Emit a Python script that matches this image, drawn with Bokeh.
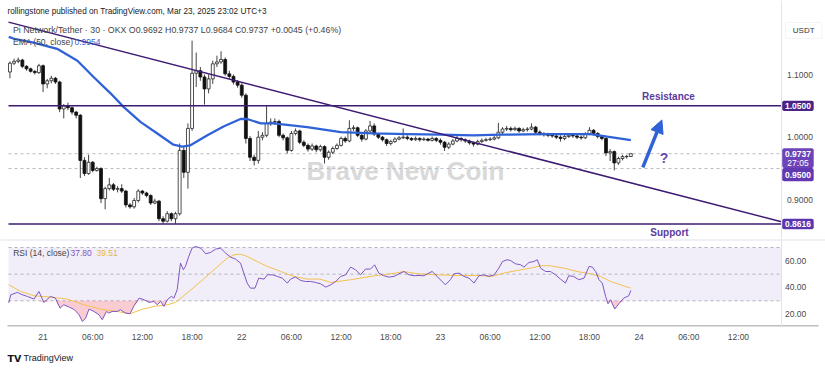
import numpy as np
from bokeh.plotting import figure
from bokeh.layouts import column
from bokeh.models import (Range1d, FixedTicker, Label, Span, Arrow, NormalHead,
                          BoxAnnotation)
from bokeh.embed import file_html
from bokeh.resources import INLINE

# ---------------- data (30-min candles, Mar 20 20:00 -> Mar 23 23:00) ----------------
opens = [1.104, 1.118, 1.121, 1.123, 1.113, 1.109, 1.105, 1.103, 1.114, 1.085,
         1.090, 1.094, 1.088, 1.045, 1.050, 1.047, 1.040, 1.035, 0.963, 0.942,
         0.960, 0.947, 0.950, 0.902, 0.918, 0.924, 0.917, 0.918, 0.914, 0.892,
         0.889, 0.899, 0.914, 0.911, 0.907, 0.895, 0.898, 0.870, 0.866, 0.878,
         0.870, 0.878, 0.979, 0.944, 1.014, 1.102, 1.106, 1.096, 1.077, 1.093,
         1.117, 1.120, 1.124, 1.101, 1.097, 1.088, 1.083, 1.067, 0.998, 0.968,
         0.963, 1.000, 1.003, 1.022, 1.024, 1.025, 1.003, 0.999, 0.979, 1.006,
         1.010, 0.992, 0.987, 0.981, 0.986, 0.980, 0.985, 0.968, 0.976, 0.982,
         0.987, 0.998, 0.994, 1.014, 1.015, 1.003, 0.997, 1.010, 1.018, 1.005,
         1.000, 0.996, 0.990, 0.993, 0.997, 0.999, 1.000, 0.998, 0.996, 0.998,
         0.996, 0.997, 0.995, 0.998, 0.995, 0.992, 0.984, 0.989, 0.994, 0.998,
         0.996, 0.994, 0.991, 0.989, 0.993, 0.995, 0.996, 0.997, 0.999, 1.008,
         1.013, 1.014, 1.012, 1.014, 1.010, 1.012, 1.013, 1.016, 1.008, 1.006,
         1.004, 1.003, 1.002, 1.000, 0.998, 1.001, 1.003, 1.002, 1.000, 0.999,
         1.005, 1.011, 1.006, 1.001, 0.998, 0.975, 0.977, 0.959, 0.966, 0.969,
         0.9692]
highs = [1.121, 1.125, 1.127, 1.125, 1.115, 1.111, 1.107, 1.117, 1.116, 1.093,
         1.098, 1.096, 1.090, 1.053, 1.055, 1.049, 1.042, 1.037, 0.968, 0.972,
         0.962, 0.953, 0.952, 0.921, 0.935, 0.927, 0.922, 0.925, 0.916, 0.895,
         0.903, 0.917, 0.916, 0.913, 0.909, 0.902, 0.900, 0.874, 0.882, 0.880,
         0.881, 0.990, 0.985, 1.022, 1.154, 1.135, 1.112, 1.100, 1.100, 1.122,
         1.130, 1.137, 1.127, 1.106, 1.100, 1.091, 1.086, 1.070, 1.002, 0.972,
         1.010, 1.008, 1.050, 1.030, 1.030, 1.028, 1.006, 1.001, 1.010, 1.014,
         1.012, 0.995, 0.990, 0.990, 0.988, 0.988, 0.987, 0.979, 0.985, 0.990,
         1.001, 1.001, 1.027, 1.019, 1.017, 1.005, 1.013, 1.026, 1.022, 1.007,
         1.002, 0.998, 0.996, 1.000, 1.002, 1.014, 1.003, 1.000, 1.001, 1.000,
         1.000, 0.999, 1.001, 1.000, 0.998, 0.994, 0.992, 0.997, 1.003, 1.000,
         0.998, 0.996, 0.993, 0.996, 0.998, 0.999, 1.000, 1.002, 1.023, 1.016,
         1.018, 1.017, 1.017, 1.016, 1.015, 1.016, 1.022, 1.018, 1.011, 1.008,
         1.007, 1.006, 1.004, 1.003, 1.004, 1.006, 1.006, 1.004, 1.003, 1.008,
         1.016, 1.013, 1.008, 1.003, 1.000, 0.981, 0.979, 0.969, 0.972, 0.972,
         0.9737]
lows = [1.094, 1.115, 1.118, 1.110, 1.106, 1.103, 1.100, 1.101, 1.072, 1.078,
        1.086, 1.085, 1.040, 1.030, 1.043, 1.036, 1.030, 0.935, 0.938, 0.940,
        0.944, 0.945, 0.895, 0.885, 0.915, 0.914, 0.912, 0.911, 0.888, 0.886,
        0.886, 0.896, 0.908, 0.904, 0.892, 0.893, 0.866, 0.862, 0.864, 0.866,
        0.862, 0.875, 0.935, 0.918, 1.010, 1.080, 1.090, 1.052, 1.070, 1.085,
        1.112, 1.117, 1.098, 1.093, 1.084, 1.079, 1.063, 0.990, 0.962, 0.955,
        0.958, 0.995, 1.000, 1.018, 1.020, 1.000, 0.995, 0.974, 0.977, 1.003,
        0.989, 0.984, 0.977, 0.978, 0.976, 0.977, 0.958, 0.964, 0.973, 0.980,
        0.985, 0.991, 0.992, 1.010, 1.000, 0.993, 0.995, 1.008, 1.002, 0.997,
        0.993, 0.986, 0.987, 0.991, 0.995, 0.997, 0.995, 0.994, 0.994, 0.993,
        0.994, 0.993, 0.993, 0.992, 0.988, 0.978, 0.981, 0.987, 0.992, 0.993,
        0.991, 0.988, 0.985, 0.987, 0.991, 0.993, 0.994, 0.995, 0.997, 1.005,
        1.010, 1.009, 1.010, 1.007, 1.008, 1.009, 1.011, 1.005, 1.003, 1.001,
        1.000, 0.999, 0.997, 0.993, 0.995, 0.999, 0.999, 0.997, 0.996, 0.997,
        1.003, 1.003, 0.998, 0.995, 0.970, 0.962, 0.947, 0.956, 0.963, 0.966,
        0.9684]
closes = [1.118, 1.121, 1.123, 1.113, 1.109, 1.105, 1.103, 1.114, 1.085, 1.090,
          1.094, 1.088, 1.045, 1.050, 1.047, 1.040, 1.035, 0.963, 0.942, 0.960,
          0.947, 0.950, 0.902, 0.918, 0.924, 0.917, 0.918, 0.914, 0.892, 0.889,
          0.899, 0.914, 0.911, 0.907, 0.895, 0.898, 0.870, 0.866, 0.878, 0.870,
          0.878, 0.979, 0.944, 1.014, 1.102, 1.106, 1.096, 1.077, 1.093, 1.117,
          1.120, 1.124, 1.101, 1.097, 1.088, 1.083, 1.067, 0.998, 0.968, 0.963,
          1.000, 1.003, 1.022, 1.024, 1.025, 1.003, 0.999, 0.979, 1.006, 1.010,
          0.992, 0.987, 0.981, 0.986, 0.980, 0.985, 0.968, 0.976, 0.982, 0.987,
          0.998, 0.994, 1.014, 1.015, 1.003, 0.997, 1.010, 1.018, 1.005, 1.000,
          0.996, 0.990, 0.993, 0.997, 0.999, 1.000, 0.998, 0.996, 0.998, 0.996,
          0.997, 0.995, 0.998, 0.995, 0.992, 0.984, 0.989, 0.994, 0.998, 0.996,
          0.994, 0.991, 0.989, 0.993, 0.995, 0.996, 0.997, 0.999, 1.008, 1.013,
          1.014, 1.012, 1.014, 1.010, 1.012, 1.013, 1.016, 1.008, 1.006, 1.004,
          1.003, 1.002, 1.000, 0.998, 1.001, 1.003, 1.002, 1.000, 0.999, 1.005,
          1.011, 1.006, 1.001, 0.998, 0.975, 0.977, 0.959, 0.966, 0.969, 0.9692,
          0.9737]

# EMA(50) (candle index, value)
ema_idx = [-0.3, 1.0, 5.7, 11.4, 16.3, 20.2, 24.3, 27.5, 31.6, 35.6, 39.5, 41.6, 43.6, 47.7, 51.6,
           55.7, 57.3, 60.6, 63.7, 71.8, 79.9, 87.9, 96.0, 104.0, 112.0, 118.5, 129.8, 140.3, 144.3, 150.0]
ema_val = [1.160, 1.157, 1.151, 1.141, 1.122, 1.096, 1.070, 1.048, 1.024, 1.006, 0.988, 0.985, 0.987, 1.003, 1.017,
           1.029, 1.029, 1.022, 1.022, 1.016, 1.008, 1.006, 1.005, 1.004, 1.003, 1.004, 1.005, 1.005, 1.001, 0.9954]

# RSI(14)
rsi_idx = [-0.3, 0.2, 1.8, 3.0, 4.2, 5.8, 7.0, 8.2, 9.8, 11.0, 12.1, 13.0, 14.3, 15.6, 16.7, 17.5, 18.3, 19.1,
           20.3, 21.5, 22.3, 23.3, 23.9, 24.7, 25.9, 26.7, 27.9, 29.0, 30.0, 31.2, 32.4, 33.6, 34.8, 35.6, 36.4,
           37.2, 38.0, 39.0, 39.6, 40.4, 41.2, 41.9, 42.4, 43.2, 44.0, 44.8, 46.1, 47.3, 48.5, 49.7, 50.9, 52.1,
           53.3, 54.5, 55.7, 56.5, 57.3, 58.1, 59.2, 60.1, 61.4, 62.2, 63.4, 64.6, 65.8, 67.0, 67.8, 69.0, 70.2,
           71.4, 72.6, 73.8, 75.0, 76.3, 77.5, 78.7, 79.9, 81.1, 82.3, 83.5, 84.7, 85.9, 87.1, 88.1, 89.1, 90.3,
           91.5, 92.8, 94.0, 95.2, 96.4, 97.6, 98.8, 100.0, 101.2, 102.0, 103.2, 104.4, 105.2, 106.4, 107.3,
           108.5, 109.7, 110.9, 112.1, 113.3, 114.5, 115.7, 117.0, 118.1, 119.0, 120.1, 120.9, 122.1, 123.4,
           124.2, 125.4, 126.6, 127.4, 128.2, 129.4, 130.6, 131.8, 133.0, 134.2, 135.0, 136.2, 137.4, 138.7,
           139.9, 140.7, 141.5, 142.3, 143.1, 143.9, 144.5, 145.1, 146.1, 147.1, 148.3, 149.5, 150.0]
rsi_val = [28.5, 34.5, 36.3, 34.5, 33.3, 31.3, 37.0, 28.8, 33.3, 32.0, 24.5, 27.0, 25.3, 23.3, 19.5, 14.5, 17.0, 23.8,
           22.0, 19.5, 15.8, 22.0, 20.8, 22.0, 22.0, 23.3, 20.8, 20.3, 26.3, 32.0, 30.8, 28.8, 29.5, 27.0, 29.5,
           25.8, 30.8, 33.3, 32.0, 38.3, 58.3, 53.3, 55.8, 63.3, 69.5, 70.8, 69.5, 65.3, 66.3, 68.8, 69.5, 65.8,
           62.8, 61.3, 58.3, 50.8, 43.3, 39.5, 39.5, 47.0, 46.3, 49.5, 49.5, 48.3, 47.0, 43.3, 46.3, 47.8, 45.3,
           44.5, 44.5, 43.8, 42.8, 40.3, 42.0, 44.5, 48.3, 49.5, 55.3, 53.3, 49.5, 53.8, 53.8, 57.0, 50.8, 48.8,
           47.8, 48.3, 50.3, 52.0, 49.5, 48.8, 49.0, 48.8, 50.8, 52.0, 48.3, 44.5, 42.0, 45.8, 50.3,
           50.8, 48.3, 47.0, 43.3, 48.8, 49.5, 48.3, 49.5, 54.5, 59.5, 60.8, 60.3, 57.8, 57.0,
           55.3, 58.8, 59.5, 60.8, 54.5, 52.0, 52.0, 49.5, 46.3, 43.3, 48.8, 48.3, 45.8, 47.0,
           55.8, 55.3, 52.0, 45.8, 43.3, 33.3, 27.8, 30.8, 23.8, 27.8, 32.0, 33.8, 37.80]

# RSI-based moving average
ma_idx = [-0.3, 2.6, 5.8, 9.8, 13.8, 17.9, 21.9, 25.9, 29.1, 31.6, 34.8, 38.0, 40.0, 42.8, 46.1, 49.3,
          52.5, 54.1, 55.7, 57.3, 59.7, 62.2, 65.4, 68.6, 71.8, 74.9, 77.5, 82.3, 87.1, 92.0, 95.2, 98.4,
          103.2, 108.1, 112.9, 116.5, 119.3, 122.6, 125.8, 128.2, 130.6, 133.8, 137.0, 140.3, 142.7, 145.1,
          147.5, 150.0]
ma_val = [42.0, 37.0, 33.8, 32.8, 31.3, 27.0, 23.8, 22.0, 20.3, 23.3, 25.8, 27.0, 28.8, 35.8, 44.5, 53.3,
          62.0, 64.5, 65.0, 63.3, 59.5, 55.8, 52.0, 48.3, 46.3, 46.3, 43.8, 45.8, 48.3, 50.3, 52.0, 50.3,
          49.5, 49.0, 49.0, 48.3, 50.8, 52.8, 54.5, 56.3, 56.3, 54.5, 52.0, 50.3, 48.3, 44.5,
          42.0, 39.51]

# key levels / drawings
resistance = 1.0500
support = 0.8616
alert_level = 0.9500
countdown = "27:05"
trend_idx = [-0.35, 186.4]
trend_price = [1.1835, 0.8651]
arrow_idx = [152.9, 157.5]
arrow_price = [0.9518, 1.0275]

# axis ticks
time_tick_idx = [8, 20, 32, 44, 56, 68, 80, 92, 104, 116, 128, 140, 152, 164, 176]
time_tick_labels = ["21", "06:00", "12:00", "18:00", "22", "06:00", "12:00", "18:00",
                    "23", "06:00", "12:00", "18:00", "24", "06:00", "12:00"]
price_ticks = [1.10, 1.00, 0.90]
rsi_ticks = [60, 40, 20]
rsi_levels = [70, 50, 30]

assert len(opens) == len(highs) == len(lows) == len(closes) == 151
assert len(rsi_idx) == len(rsi_val)
assert len(ma_idx) == len(ma_val)
assert len(ema_idx) == len(ema_val)

# ---------------- layout constants (page pixels) ----------------
W = 825
PXI = 773.0 / 186.75          # px per candle
X_LEFT = -0.35                # candle-index at chart left edge (page x 8)
AXIS_X = 186.4                # candle-index where price scale starts (page x 781)
FONT = "Liberation Sans"
PURPLE_LINE = "#3d1b72"
BLUE = "#2f62d6"
TXT = "#4a4a4a"


def ix(px):
    return X_LEFT + (px - 8) / PXI


def py(pyy):
    return 1.0 - (pyy - 136.7) / 627.0


def ry(pyy):
    return 50.0 - (pyy - 273.65) / 1.3325


x_range = Range1d(ix(0), ix(W))


def base_fig(height, y_range, **kw):
    f = figure(width=W, height=height, x_range=x_range, y_range=y_range,
               output_backend="svg", toolbar_location=None, min_border=0,
               min_border_left=0, min_border_right=0, min_border_top=0, **kw)
    f.grid.visible = False
    f.outline_line_color = None
    f.background_fill_color = "white"
    f.border_fill_color = "white"
    return f


def label(fig, x, y, text, size="8.5px", color=TXT, align="left", bold=False, **kw):
    fig.add_layout(Label(x=x, y=y, text=text, text_align=align, text_baseline="middle",
                         text_font=kw.pop("font", FONT), text_font_size=size,
                         text_font_style="bold" if bold else "normal", text_color=color, **kw))


def box(fig, x0, x1, y0, y1, color, border=None):
    fig.add_layout(BoxAnnotation(left=x0, right=x1, bottom=y0, top=y1, fill_color=color,
                                 fill_alpha=1.0, line_color=border, line_width=1,
                                 border_radius=2, level="overlay"))


# ---------------- price pane ----------------
p1 = base_fig(238, Range1d(py(238), py(0)), x_axis_location=None, y_axis_location=None,
              min_border_bottom=0)

idx = np.arange(len(closes))
o = np.array(opens); c = np.array(closes); h = np.array(highs); l = np.array(lows)
up = c >= o
dn = ~up

# dotted current-price & alert lines
p1.segment(x0=[X_LEFT, X_LEFT], y0=[closes[-1], alert_level], x1=[AXIS_X, AXIS_X],
           y1=[closes[-1], alert_level], line_color="#b8bcc6", line_dash="3 3", line_width=1)

label(p1, ix(405), py(170), "Brave New Coin", size="26px", color="#d9d9d9",
      align="center", bold=True, level="underlay")

p1.segment(idx, h, idx, l, line_color="#444444", line_width=1)
p1.vbar(x=idx[up], width=0.7, top=c[up], bottom=o[up], fill_color="white",
        line_color="#222222", line_width=0.8)
p1.vbar(x=idx[dn], width=0.7, top=o[dn], bottom=c[dn], fill_color="#111111",
        line_color="#111111", line_width=0.8)

p1.line(ema_idx, ema_val, line_color=BLUE, line_width=2.3)
p1.line(trend_idx, trend_price, line_color=PURPLE_LINE, line_width=1.5)
p1.segment(x0=[X_LEFT, X_LEFT], y0=[resistance, support], x1=[AXIS_X, AXIS_X],
           y1=[resistance, support], line_color=PURPLE_LINE, line_width=1.5)

p1.add_layout(Arrow(end=NormalHead(size=13, fill_color=BLUE, line_color=BLUE),
                    x_start=arrow_idx[0], y_start=arrow_price[0],
                    x_end=arrow_idx[1], y_end=arrow_price[1],
                    line_color=BLUE, line_width=3.5))

ann_purple = "#5b3a9f"
label(p1, ix(668), py(95.5), "Resistance", size="10px", color=ann_purple, align="center", bold=True)
label(p1, ix(669), py(231.5), "Support", size="10px", color=ann_purple, align="center", bold=True)
label(p1, ix(663.5), py(157.5), "?", size="14px", color="#6a48b0", align="center", bold=True)

# header texts
label(p1, ix(7), py(10.5), "rollingstone published on TradingView.com, Mar 23, 2025 23:02 UTC+3",
      size="8.2px", color="#222222")
chg = closes[-1] - opens[-1]
pct = chg / opens[-1] * 100
label(p1, ix(12.5), py(29), (f"Pi Network/Tether · 30 · OKX O{opens[-1]:.4f} H{highs[-1]:.4f} "
                             f"L{lows[-1]:.4f} C{closes[-1]:.4f} {chg:+.4f} ({pct:+.2f}%)"),
      size="8.8px", color="#444444")
label(p1, ix(12.5), py(41.5), "EMA (50, close)", color="#444444")
label(p1, ix(74), py(41.5), f"{ema_val[-1]:.4f}", color=BLUE)

# price scale
p1.add_layout(Span(location=AXIS_X, dimension="height", line_color="#e0e3eb", line_width=1))
for t in price_ticks:
    label(p1, ix(786.5), t, f"{t:.4f}")

BX0, BX1, AXC = ix(781.7), ix(813.2), ix(797.5)
half = 5.2 / 627.0
box(p1, BX0, BX1, resistance - half, resistance + half, "#4b2386")
label(p1, AXC, resistance, f"{resistance:.4f}", color="white", align="center", bold=True, level="overlay")

box(p1, BX0, BX1, py(167.5), py(147.7), "#6c43b8")
box(p1, BX0, BX1, py(180.7), py(167.5), "#6339b2")
label(p1, AXC, py(153.2), f"{closes[-1]:.4f}", color="white", align="center", bold=True, level="overlay")
label(p1, AXC, py(162.6), countdown, color="white", align="center", level="overlay")
label(p1, AXC, py(174.3), f"{alert_level:.4f}", color="white", align="center", bold=True, level="overlay")

box(p1, BX0, BX1, support - half, support + half, "#5b34b0")
label(p1, AXC, support, f"{support:.4f}", color="white", align="center", bold=True, level="overlay")

box(p1, ix(785), ix(821.5), py(38), py(22), "white", border="#d6d9e0")
label(p1, ix(803.2), py(30), "USDT", size="8px", color="#333333", align="center", level="overlay")

# ---------------- RSI pane ----------------
p2 = base_fig(108, Range1d(ry(326), ry(238)), y_axis_location=None, min_border_bottom=20)

p2.add_layout(Span(location=ry(239.5), dimension="width", line_color="#e0e3eb", line_width=1))
p2.add_layout(BoxAnnotation(bottom=rsi_levels[2], top=rsi_levels[0], left=X_LEFT, right=AXIS_X,
                            fill_color="#7e57c2", fill_alpha=0.1, line_color=None, level="underlay"))
p2.segment(x0=[X_LEFT] * 3, y0=rsi_levels, x1=[AXIS_X] * 3, y1=rsi_levels,
           line_color="#b2b5be", line_dash="3 3", line_width=1)

rv = np.array(rsi_val)
p2.varea(x=rsi_idx, y1=np.minimum(rv, rsi_levels[2]), y2=rsi_levels[2],
         fill_color="#f07a8e", fill_alpha=0.38)
p2.line(ma_idx, ma_val, line_color="#f3c14e", line_width=1)
p2.line(rsi_idx, rsi_val, line_color="#7e57c2", line_width=1)

p2.add_layout(Span(location=AXIS_X, dimension="height", line_color="#e0e3eb", line_width=1))
for t in rsi_ticks:
    label(p2, ix(784.5), t, f"{t:.2f}")

# time-scale line
p2.segment(x0=[ix(7)], y0=[ry(325.5)], x1=[ix(818)], y1=[ry(325.5)],
           line_color="#7a7a7a", line_width=1)

ax2 = p2.xaxis[0]
ax2.ticker = FixedTicker(ticks=time_tick_idx)
ax2.major_label_overrides = {t: s for t, s in zip(time_tick_idx, time_tick_labels)}
ax2.major_label_text_font = FONT
ax2.major_label_text_font_size = "8.5px"
ax2.major_label_text_color = TXT
ax2.major_tick_out = 0
ax2.major_tick_in = 0
ax2.minor_tick_out = 0
ax2.minor_tick_in = 0
ax2.axis_line_color = None
ax2.major_label_standoff = 5

label(p2, ix(12.7), ry(252.5), "RSI (14, close)", color="#444444")
label(p2, ix(70), ry(252.5), f"{rsi_val[-1]:.2f}", color="#7e57c2")
label(p2, ix(96), ry(252.5), f"{ma_val[-1]:.2f}", color="#e9b63c")

# ---------------- footer ----------------
p3 = base_fig(24, Range1d(370, 346), x_axis_location=None, y_axis_location=None,
              min_border_bottom=0)
label(p3, ix(7), 357.5, "TV", size="9.5px", color="#131722", bold=True, font="DejaVu Sans")
label(p3, ix(23), 357.5, "TradingView", size="9px", color="#131722")

layout = column(p1, p2, p3, spacing=0)
open("out.html", "w").write(file_html(layout, INLINE))
